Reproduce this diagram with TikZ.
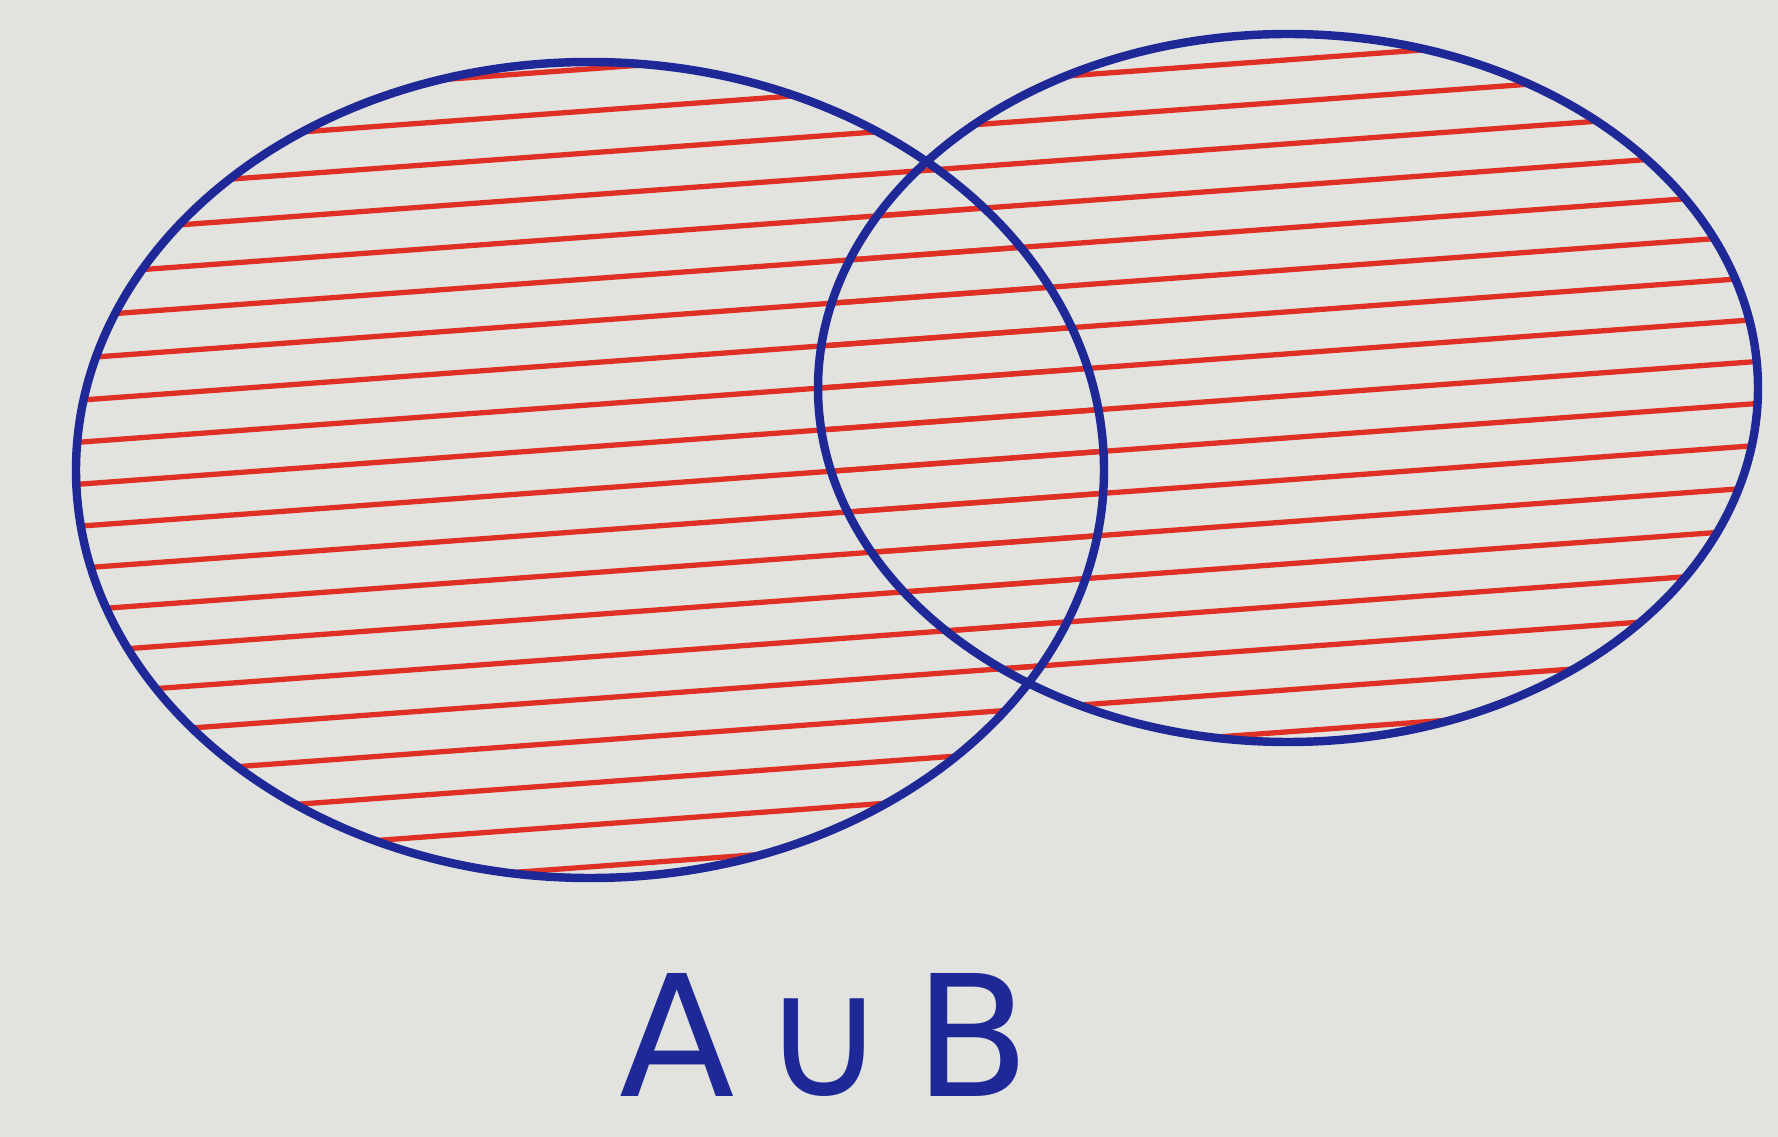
\documentclass[tikz,border=0pt]{standalone}
\usepackage{fontspec}
\newfontfamily\labelfont{DejaVu Sans}
\usetikzlibrary{calc}
\definecolor{paperGray}{RGB}{226,226,223}
\definecolor{inkBlue}{RGB}{30,40,150}
\definecolor{inkRed}{RGB}{222,48,36}

\begin{document}
\begin{tikzpicture}[
  x=0.01cm, y=-0.01cm,
  setline/.style={draw=inkBlue, line width=2.4pt},
  hatch/.style={draw=inkRed, line width=1.5pt, line cap=round},
  setlabel/.style={text=inkBlue, inner sep=0pt, font=\fontsize{48}{54}\selectfont\labelfont}
]

% - paper -
\fill[paperGray] (0,0) rectangle (1778,1137);
\useasboundingbox (0,0) rectangle (1778,1137);

% - red hatching over the union -
\begin{scope}
  \clip (590,470) ellipse [x radius=514, y radius=408];
  \foreach \k in {0,...,24}
    \draw[hatch] (0,{70+\k*42}) -- (1778,{70+\k*42-130});
\end{scope}
\begin{scope}
  \clip (1288,388) ellipse [x radius=470, y radius=354];
  \foreach \k in {0,...,24}
    \draw[hatch] (0,{70+\k*42}) -- (1778,{70+\k*42-130});
\end{scope}

% - sets A and B -
\draw[setline] (590,470) ellipse [x radius=514, y radius=408];
\draw[setline] (1288,388) ellipse [x radius=470, y radius=354];

% - label -
\node[setlabel] (union) at (825,1035) {A\,∪\,B};

\end{tikzpicture}
\end{document}
